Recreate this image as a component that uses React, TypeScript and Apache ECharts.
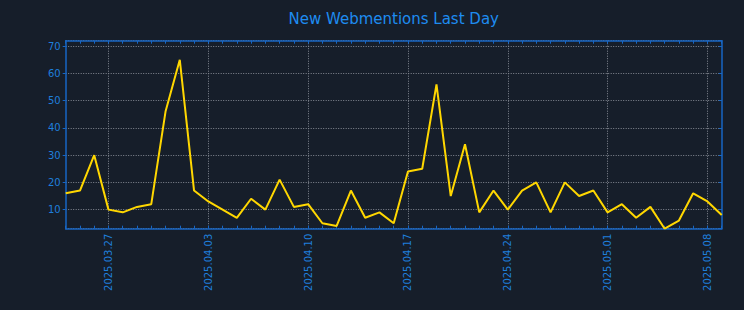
import React, { useEffect, useRef } from "react";
import * as echarts from "echarts";

const startDate = new Date(Date.UTC(2025, 2, 24));
const dayCount = 47;
const dates: string[] = Array.from({ length: dayCount }, (_, i) => {
  const d = new Date(startDate.getTime() + i * 86400000);
  const m = String(d.getUTCMonth() + 1).padStart(2, "0");
  const dd = String(d.getUTCDate()).padStart(2, "0");
  return `${d.getUTCFullYear()}.${m}.${dd}`;
});

const webmentions: number[] = [
  16, 17, 30, 10, 9, 11, 12, 46, 65, 17, 13, 10, 7,
  14, 10, 21, 11, 12, 5, 4, 17, 7, 9, 5, 24, 25, 56, 15, 34, 9,
  17, 10, 17, 20, 9, 20, 15, 17, 9, 12, 7, 11, 3, 6, 16, 13, 8,
];

const yTickLabels = [10, 20, 30, 40, 50, 60, 70];
const titleText = "New Webmentions Last Day";

const BG = "#161e2a";
const AXIS = "#1766c4";
const LABEL = "#1f7fdc";
const GRIDC = "#858a93";
const FONT = "DejaVu Sans";

export default function App() {
  const ref = useRef<HTMLDivElement>(null);
  useEffect(() => {
    const chart = echarts.init(ref.current!, undefined, { renderer: "svg" });
    const majorIdx = (i: number) => i % 7 === 3;
    chart.setOption({
      animation: false,
      backgroundColor: BG,
      graphic: [
        {
          type: "text",
          x: 393.7,
          y: 19,
          style: {
            text: titleText,
            fill: "#1e8cf0",
            font: `15px '${FONT}'`,
            textAlign: "center",
            textVerticalAlign: "middle",
          },
        },
      ],
      grid: { left: 65.7, right: 22.3, top: 40.7, bottom: 81.3, containLabel: false },
      xAxis: [
        {
          type: "category",
          data: dates,
          boundaryGap: false,
          position: "bottom",
          axisLine: { show: true, lineStyle: { color: AXIS, width: 1.5 } },
          axisTick: { show: true, inside: true, interval: 0, length: 3, lineStyle: { color: AXIS } },
          axisLabel: {
            interval: (i: number) => majorIdx(i),
            rotate: 90,
            color: LABEL,
            fontFamily: FONT,
            fontSize: 10,
            margin: 5,
          },
          splitLine: {
            show: true,
            interval: (i: number) => majorIdx(i),
            lineStyle: { color: GRIDC, type: [1, 1.5], width: 1 },
          },
        },
        {
          type: "category",
          data: dates,
          boundaryGap: false,
          position: "top",
          axisLine: { show: true, lineStyle: { color: AXIS, width: 1.5 } },
          axisTick: { show: true, inside: true, interval: 0, length: 3, lineStyle: { color: AXIS } },
          axisLabel: { show: false },
          splitLine: { show: false },
        },
      ],
      yAxis: [
        {
          type: "value",
          min: 3,
          max: 72,
          position: "left",
          axisLine: { show: true, lineStyle: { color: AXIS, width: 1.5 } },
          axisTick: { show: true, inside: false, length: 3, lineStyle: { color: AXIS } },
          axisLabel: {
            color: LABEL,
            fontFamily: FONT,
            fontSize: 10,
            margin: 5,
            showMinLabel: false,
            showMaxLabel: false,
            formatter: (v: number) => (yTickLabels.includes(v) ? String(v) : ""),
          },
          splitLine: {
            show: true,
            lineStyle: { color: GRIDC, type: [1, 1.5], width: 1 },
          },
        },
        {
          type: "value",
          min: 3,
          max: 72,
          position: "right",
          axisLine: { show: true, lineStyle: { color: AXIS, width: 1.5 } },
          axisTick: { show: true, inside: true, length: 3, lineStyle: { color: AXIS } },
          axisLabel: { show: false },
          splitLine: { show: false },
        },
      ],
      series: [
        {
          type: "line",
          data: webmentions,
          xAxisIndex: 0,
          yAxisIndex: 0,
          showSymbol: false,
          lineStyle: { color: "#ffd700", width: 2 },
          itemStyle: { color: "#ffd700" },
        },
      ],
    });
    return () => chart.dispose();
  }, []);
  return (
    <div
      ref={ref}
      style={{ position: "fixed", left: 0, top: 0, width: 744, height: 310, background: BG }}
    />
  );
}
